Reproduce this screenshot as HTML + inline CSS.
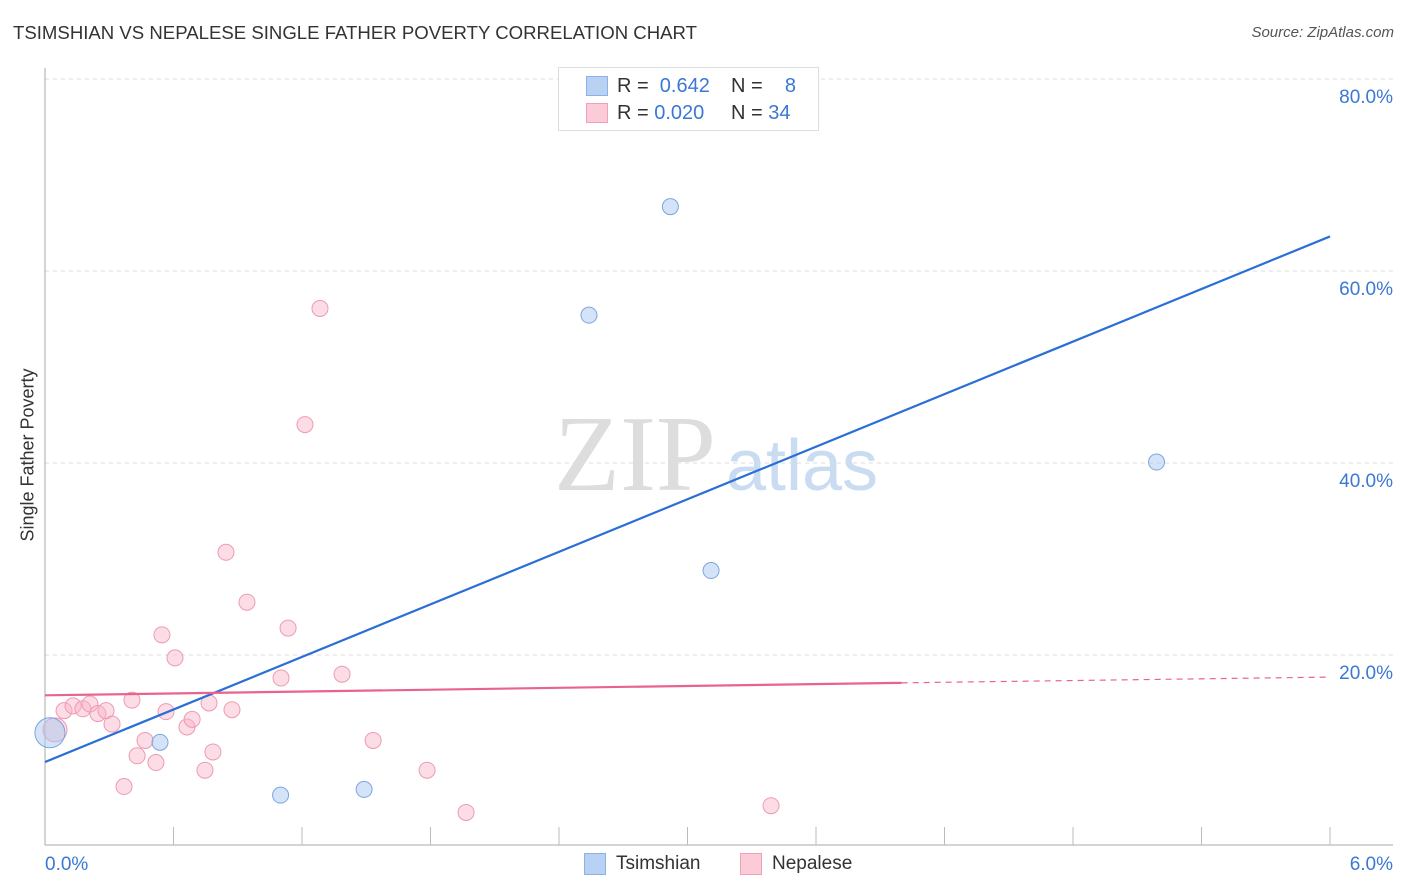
<!DOCTYPE html>
<html><head><meta charset="utf-8">
<style>
body{margin:0;background:#fff;font-family:"Liberation Sans",sans-serif;}
#c{position:relative;width:1406px;height:892px;overflow:hidden;}
.t{position:absolute;white-space:nowrap;}
</style></head>
<body>
<div id="c">
<div class="t" style="left:13px;top:22px;font-size:18.6px;color:#333;letter-spacing:0px">TSIMSHIAN VS NEPALESE SINGLE FATHER POVERTY CORRELATION CHART</div>
<div class="t" style="right:12px;top:24px;font-size:15px;color:#555;font-style:italic">Source: ZipAtlas.com</div>
<svg id="s" width="1406" height="892" style="position:absolute;left:0;top:0">
<text x="635" y="490" font-family="Liberation Serif,serif" font-size="108" fill="#ddd" text-anchor="middle">ZIP</text>
<text x="802" y="490" font-family="Liberation Sans,sans-serif" font-size="72" fill="#c9dcf2" text-anchor="middle">atlas</text>
</svg>
<div class="t" style="left:28px;top:455px;transform:translate(0,-50%) rotate(-90deg);transform-origin:center;font-size:18px;color:#333;width:0;display:flex;justify-content:center"><span>Single Father Poverty</span></div>
<div style="position:absolute;left:558px;top:67px;width:259px;height:62px;border:1px solid #ddd;background:#fff">
 <div style="position:absolute;left:27px;top:8px;width:20px;height:18px;background:#b9d2f3;border:1px solid #8db1e6"></div>
 <div style="position:absolute;left:27px;top:35px;width:20px;height:18px;background:#fbcbd8;border:1px solid #f0a0b8"></div>
 <div class="t" style="left:58px;top:7px;font-size:20px;color:#333">R = <span style="color:#3a78d4">&nbsp;0.642</span></div>
 <div class="t" style="left:172px;top:7px;font-size:20px;color:#333">N = <span style="color:#3a78d4">&nbsp;&nbsp;&nbsp;8</span></div>
 <div class="t" style="left:58px;top:34px;font-size:20px;color:#333">R = <span style="color:#3a78d4">0.020</span></div>
 <div class="t" style="left:172px;top:34px;font-size:20px;color:#333">N = <span style="color:#3a78d4">34</span></div>
</div>
<div style="position:absolute;left:584px;top:853px;width:20px;height:20px;background:#b9d2f3;border:1px solid #8db1e6"></div>
<div class="t" style="left:616px;top:853px;font-size:19px;color:#333">Tsimshian</div>
<div style="position:absolute;left:740px;top:853px;width:20px;height:20px;background:#fbcbd8;border:1px solid #f0a0b8"></div>
<div class="t" style="left:772px;top:853px;font-size:19px;color:#333">Nepalese</div>
</div>
<script>
const yTicks=[20,40,60,80];
const xTickLabels=["0.0%","6.0%"];
const blueX=[0.023,0.537,1.10,1.49,2.54,2.92,3.11,5.19];
const blueY=[11.9,10.9,5.4,6.0,55.4,66.7,28.8,40.1];
const pinkX=[0.047,0.089,0.131,0.177,0.210,0.247,0.285,0.313,0.369,0.406,0.430,0.467,0.518,0.546,0.565,0.607,0.663,0.687,0.747,0.766,0.784,0.845,0.873,0.943,1.102,1.135,1.214,1.284,1.387,1.532,1.784,1.966,3.390];
const pinkY=[12.2,14.2,14.7,14.4,14.9,13.9,14.2,12.8,6.3,15.3,9.5,11.1,8.8,22.1,14.1,19.7,12.5,13.3,8.0,15.0,9.9,30.7,14.3,25.5,17.6,22.8,44.0,56.1,18.0,11.1,8.0,3.6,4.3];
const blueLine=[8.85,63.6];
const pinkLine=[15.8,17.1,17.7];
const pinkSolidEnd=4.0;
const X=v=>45+v*1285/6, Y=v=>847-v*9.6;
const s=document.getElementById('s'),NS='http://www.w3.org/2000/svg';
function mk(t,a){const e=document.createElementNS(NS,t);for(const k in a)e.setAttribute(k,a[k]);s.appendChild(e);return e;}
yTicks.forEach(v=>{
 const l=mk('line',{x1:45,x2:1393,y1:Y(v),y2:Y(v),stroke:'#ddd','stroke-dasharray':'4,4'});
 
 
 const t=mk('text',{x:1393,y:Y(v)+24,'text-anchor':'end','font-size':19,fill:'#3a78d4','font-family':'Liberation Sans,sans-serif'});
 t.textContent=v.toFixed(1)+'%';
 
 
});
const ax=mk('line',{x1:45,x2:45,y1:68,y2:845,stroke:'#aaa'});


const bx=mk('line',{x1:45,x2:1393,y1:845,y2:845,stroke:'#aaa'});


for(let i=1;i<=10;i++){const x=45+i*128.5;const tk=mk('line',{x1:x,x2:x,y1:827,y2:845,stroke:'#bbb'});
 
 }
xTickLabels.forEach((lb,i)=>{const t=mk('text',{x:i?1393:45,y:870,'text-anchor':i?'end':'start','font-size':19,fill:'#3a78d4','font-family':'Liberation Sans,sans-serif'});t.textContent=lb;
 
 });
pinkX.forEach((x,i)=>{const c=mk('circle',{cx:X(x),cy:Y(pinkY[i]),r:i==0?12:8,fill:'rgba(248,180,200,0.45)',stroke:'#ee9ab3','stroke-width':1});
 
 });
blueX.forEach((x,i)=>{const c=mk('circle',{cx:X(x),cy:Y(blueY[i]),r:i==0?15:8,fill:'rgba(170,200,240,0.5)',stroke:'#7aa6e0','stroke-width':1});
 
 });
const bl=mk('line',{x1:X(0),y1:Y(blueLine[0]),x2:X(6),y2:Y(blueLine[1]),stroke:'#2a6fd6','stroke-width':2.2});


const pl=mk('line',{x1:X(0),y1:Y(pinkLine[0]),x2:X(pinkSolidEnd),y2:Y(pinkLine[1]),stroke:'#e8648f','stroke-width':2.2});


const pd=mk('line',{x1:X(pinkSolidEnd),y1:Y(pinkLine[1]),x2:X(6),y2:Y(pinkLine[2]),stroke:'#e8648f','stroke-width':1.2,'stroke-dasharray':'6,5'});


</script>
</body></html>
